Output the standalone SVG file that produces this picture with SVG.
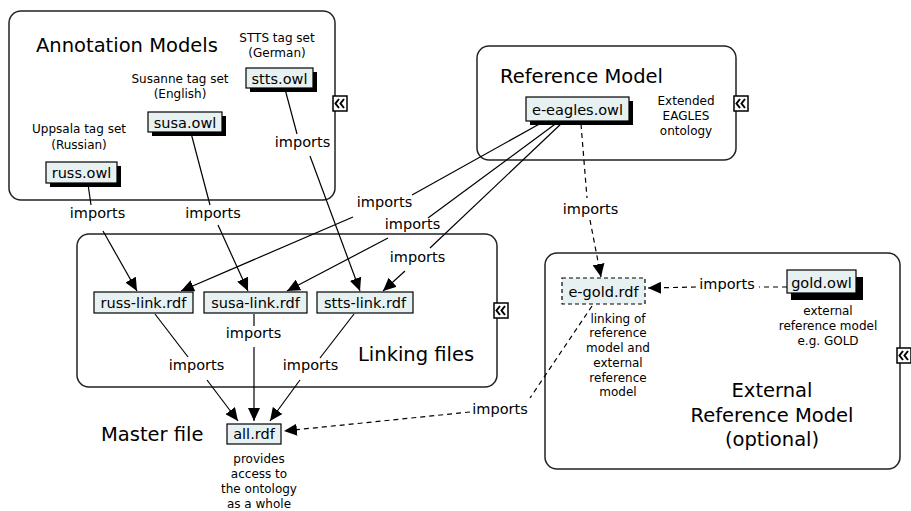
<svg xmlns="http://www.w3.org/2000/svg" width="911" height="511" viewBox="0 0 911 511">
<style>
text{font-family:"DejaVu Sans","Verdana",sans-serif;fill:#000}
.title{font-size:19.5px}
.node{font-size:14.5px;text-anchor:middle}
.lbl{font-size:14.5px;text-anchor:middle}
.small{font-size:12px;text-anchor:middle}
.grp{fill:#fff;stroke:#222;stroke-width:1.5}
.box{fill:#e8f1f1;stroke:#000;stroke-width:1.2}
.shadow{fill:#000}
.dbox{fill:#e8f1f1;stroke:#000;stroke-width:1.2;stroke-dasharray:4,3}
.ln{stroke:#000;stroke-width:1.2;fill:none}
.dl{stroke:#000;stroke-width:1.2;fill:none;stroke-dasharray:5,4}
.ico{fill:#fff;stroke:#000;stroke-width:1.5}
.chev{fill:none;stroke:#000;stroke-width:2}
</style>
<defs>
<marker id="ah" markerUnits="userSpaceOnUse" markerWidth="14" markerHeight="12" refX="13" refY="6" orient="auto">
<path d="M0,0 L13,6 L0,12 z" fill="#000"/>
</marker>
<g id="icon">
<rect class="ico" x="0" y="0" width="14" height="15"/>
<path class="chev" d="M6,3 L2.5,7.5 L6,12 M11,3 L7.5,7.5 L11,12"/>
</g>
</defs>
<rect width="911" height="511" fill="#fff"/>

<g id="annotation-models">
<rect class="grp" x="9" y="11" width="326" height="189" rx="12"/>
<text class="title" x="36" y="52">Annotation Models</text>
<use href="#icon" x="333" y="96"/>
</g>
<g id="reference-model">
<rect class="grp" x="477" y="46" width="259" height="114" rx="12"/>
<text class="title" x="500" y="83">Reference Model</text>
<use href="#icon" x="734" y="96"/>
</g>
<g id="linking-files">
<rect class="grp" x="77" y="234" width="420" height="153" rx="12"/>
<text class="title" x="358" y="361">Linking files</text>
<use href="#icon" x="494" y="303"/>
</g>
<g id="external-reference-model">
<rect class="grp" x="545" y="253" width="355" height="216" rx="12"/>
<text class="title" x="772" y="397" text-anchor="middle">External</text>
<text class="title" x="772" y="422" text-anchor="middle">Reference Model</text>
<text class="title" x="772" y="446" text-anchor="middle">(optional)</text>
<use href="#icon" x="897" y="348"/>
</g>

<g id="stts-owl">
<rect class="shadow" x="250" y="72" width="67" height="20"/>
<rect class="box" x="246" y="68" width="67" height="20"/>
<text class="node" x="279.5" y="83.5">stts.owl</text>
<text class="small" x="277" y="42">STTS tag set</text>
<text class="small" x="277" y="57">(German)</text>
</g>
<g id="susa-owl">
<rect class="shadow" x="152" y="116" width="74" height="20"/>
<rect class="box" x="148" y="112" width="74" height="20"/>
<text class="node" x="185" y="127.5">susa.owl</text>
<text class="small" x="180" y="83">Susanne tag set</text>
<text class="small" x="180" y="98">(English)</text>
</g>
<g id="russ-owl">
<rect class="shadow" x="50" y="166" width="71" height="21"/>
<rect class="box" x="46" y="162" width="71" height="21"/>
<text class="node" x="81.5" y="178">russ.owl</text>
<text class="small" x="79" y="133">Uppsala tag set</text>
<text class="small" x="79" y="149">(Russian)</text>
</g>
<g id="e-eagles-owl">
<rect class="shadow" x="530" y="101" width="103" height="24"/>
<rect class="box" x="526" y="97" width="103" height="24"/>
<text class="node" x="577.5" y="114.5">e-eagles.owl</text>
<text class="small" x="686" y="105">Extended</text>
<text class="small" x="686" y="120">EAGLES</text>
<text class="small" x="686" y="135">ontology</text>
</g>
<g id="russ-link-rdf">
<rect class="box" x="94" y="292" width="99" height="21"/>
<text class="node" x="143.5" y="307.5">russ-link.rdf</text>
</g>
<g id="susa-link-rdf">
<rect class="box" x="204" y="292" width="103" height="21"/>
<text class="node" x="255.5" y="307.5">susa-link.rdf</text>
</g>
<g id="stts-link-rdf">
<rect class="box" x="317" y="292" width="96" height="21"/>
<text class="node" x="365" y="307.5">stts-link.rdf</text>
</g>
<g id="all-rdf">
<rect class="box" x="227" y="424" width="54" height="20"/>
<text class="node" x="254" y="439">all.rdf</text>
<text class="title" x="101" y="441">Master file</text>
<text class="small" x="259" y="463">provides</text>
<text class="small" x="259" y="478">access to</text>
<text class="small" x="259" y="493">the ontology</text>
<text class="small" x="259" y="508">as a whole</text>
</g>
<g id="e-gold-rdf">
<rect class="dbox" x="562" y="278" width="83" height="26"/>
<text class="node" x="603.5" y="297">e-gold.rdf</text>
<text class="small" x="618" y="323">linking of</text>
<text class="small" x="618" y="337">reference</text>
<text class="small" x="618" y="352">model and</text>
<text class="small" x="618" y="367">external</text>
<text class="small" x="618" y="382">reference</text>
<text class="small" x="618" y="396">model</text>
</g>
<g id="gold-owl">
<rect class="shadow" x="791" y="277" width="72" height="23"/>
<rect class="box" x="787" y="270" width="69" height="23"/>
<text class="node" x="821.5" y="287.5">gold.owl</text>
<text class="small" x="828" y="315">external</text>
<text class="small" x="828" y="330">reference model</text>
<text class="small" x="828" y="345">e.g. GOLD</text>
</g>

<g id="connectors">
<line class="ln" x1="88" y1="184" x2="91" y2="205"/>
<line class="ln" x1="103" y1="231" x2="137" y2="291" marker-end="url(#ah)"/>
<text class="lbl" x="97.5" y="218">imports</text>

<line class="ln" x1="191" y1="133" x2="210" y2="205"/>
<line class="ln" x1="218" y1="225" x2="248" y2="291" marker-end="url(#ah)"/>
<text class="lbl" x="213" y="218">imports</text>

<line class="ln" x1="285" y1="89" x2="297" y2="134"/>
<line class="ln" x1="310" y1="156" x2="360" y2="291" marker-end="url(#ah)"/>
<text class="lbl" x="302.5" y="147">imports</text>

<line class="ln" x1="543" y1="122" x2="412" y2="195"/>
<line class="ln" x1="353" y1="217" x2="181" y2="291" marker-end="url(#ah)"/>
<text class="lbl" x="384.5" y="207">imports</text>

<line class="ln" x1="558" y1="122" x2="428" y2="218"/>
<line class="ln" x1="388" y1="238" x2="287" y2="291" marker-end="url(#ah)"/>
<text class="lbl" x="412.5" y="229">imports</text>

<line class="ln" x1="563" y1="122" x2="430" y2="248"/>
<line class="ln" x1="405" y1="271" x2="383" y2="291" marker-end="url(#ah)"/>
<text class="lbl" x="417.5" y="262">imports</text>

<line class="ln" x1="155" y1="314" x2="188" y2="357"/>
<line class="ln" x1="207" y1="380" x2="238" y2="421" marker-end="url(#ah)"/>
<text class="lbl" x="196.5" y="370">imports</text>

<line class="ln" x1="254" y1="314" x2="254" y2="326"/>
<line class="ln" x1="254" y1="347" x2="254" y2="421" marker-end="url(#ah)"/>
<text class="lbl" x="253.5" y="338">imports</text>

<line class="ln" x1="354" y1="314" x2="320" y2="358"/>
<line class="ln" x1="300" y1="380" x2="270" y2="421" marker-end="url(#ah)"/>
<text class="lbl" x="310.5" y="370">imports</text>

<line class="dl" x1="581" y1="124" x2="587" y2="198"/>
<line class="dl" x1="590" y1="220" x2="601" y2="277" marker-end="url(#ah)"/>
<text class="lbl" x="590.5" y="214">imports</text>

<line class="dl" x1="787" y1="287" x2="759" y2="287"/>
<line class="dl" x1="696" y1="287" x2="648" y2="288" marker-end="url(#ah)"/>
<text class="lbl" x="727" y="289">imports</text>

<line class="dl" x1="592" y1="306" x2="530" y2="398"/>
<line class="dl" x1="470" y1="412" x2="284" y2="431" marker-end="url(#ah)"/>
<text class="lbl" x="500" y="414">imports</text>
</g>
</svg>
